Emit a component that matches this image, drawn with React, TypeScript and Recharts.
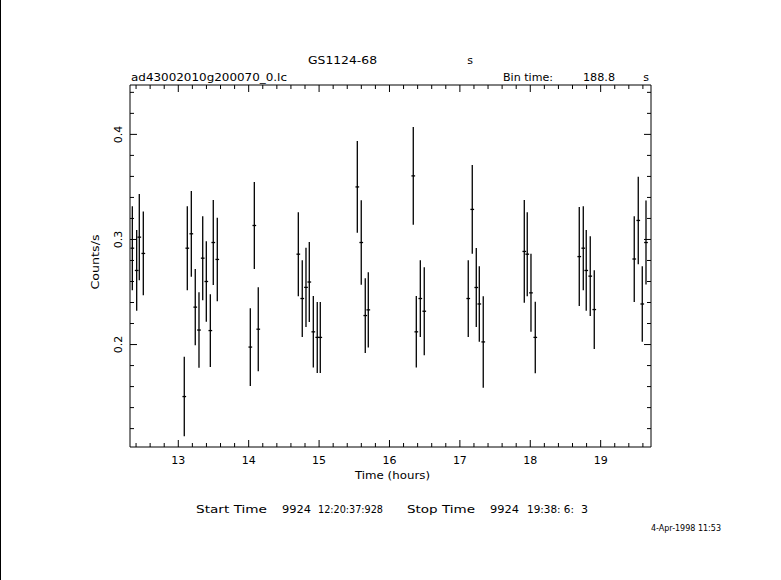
import React from 'react'
import {ScatterChart, Scatter, XAxis, YAxis, ErrorBar} from 'recharts'

// light curve, time in hours, rate in counts/s
const times = [
  12.347, 12.409, 12.446, 12.503,
  13.085, 13.128, 13.185, 13.241, 13.294, 13.347, 13.398, 13.455, 13.497, 13.554,
  14.023, 14.080, 14.136,
  14.705, 14.761, 14.814, 14.861, 14.918, 14.974, 15.017,
  15.543, 15.599, 15.656, 15.699,
  16.338, 16.381, 16.438, 16.494,
  17.119, 17.176, 17.233, 17.276, 17.332,
  17.915, 17.957, 18.010, 18.071,
  18.696, 18.753, 18.795, 18.852, 18.909,
  19.477, 19.534, 19.591, 19.644
]
const rates = [
  0.2917, 0.2705, 0.3022, 0.2867,
  0.1505, 0.2917, 0.3054, 0.2356, 0.2138, 0.2822, 0.2600, 0.2133, 0.2971, 0.2810,
  0.1976, 0.3133, 0.2146,
  0.2860, 0.2438, 0.2544, 0.2595, 0.2121, 0.2068, 0.2068,
  0.3500, 0.2971, 0.2276, 0.2330,
  0.3605, 0.2121, 0.2438, 0.2317,
  0.2438, 0.3286, 0.2543, 0.2386, 0.2025,
  0.2886, 0.2860, 0.2492, 0.2068,
  0.2837, 0.2917, 0.2705, 0.2651, 0.2333,
  0.2814, 0.3181, 0.2386, 0.2971
]
const errors = [
  0.0400, 0.0384, 0.0410, 0.0398,
  0.0378, 0.0400, 0.0408, 0.0362, 0.0360, 0.0400, 0.0384, 0.0346, 0.0405, 0.0397,
  0.0370, 0.0413, 0.0400,
  0.0400, 0.0365, 0.0376, 0.0380, 0.0340, 0.0338, 0.0338,
  0.0437, 0.0403, 0.0356, 0.0359,
  0.0465, 0.0340, 0.0365, 0.0419,
  0.0365, 0.0422, 0.0375, 0.0360, 0.0435,
  0.0489, 0.0400, 0.0371, 0.0340,
  0.0471, 0.0400, 0.0384, 0.0380, 0.0375,
  0.0408, 0.0416, 0.0360, 0.0400
]
const binTimeSec = 188.8

const xTicks = [
  12.4, 12.6, 12.8, 13, 13.2, 13.4, 13.6, 13.8, 14, 14.2, 14.4, 14.6, 14.8, 15,
  15.2, 15.4, 15.6, 15.8, 16, 16.2, 16.4, 16.6, 16.8, 17, 17.2, 17.4, 17.6, 17.8,
  18, 18.2, 18.4, 18.6, 18.8, 19, 19.2, 19.4, 19.6
]
const yTicks = [
  0.12, 0.14, 0.16, 0.18, 0.2, 0.22, 0.24, 0.26, 0.28, 0.3, 0.32, 0.34, 0.36,
  0.38, 0.4, 0.42, 0.44
]
const xDomain = [12.314, 19.715]
const yDomain = [0.1025, 0.447]

const data = times.map((t, i) => ({t, rate: rates[i], err: errors[i], half: binTimeSec / 3600 / 2}))

const FONT = '"DejaVu Sans", Arial, sans-serif'
const isMajorX = (v: number) => Math.abs(v - Math.round(v)) < 1e-6
const isMajorY = (v: number) => Math.abs(v * 10 - Math.round(v * 10)) < 1e-6

const BottomTick = (p: any) => {
  const v = p.payload.value
  const major = isMajorX(v)
  return (
    <g>
      <line x1={p.x} x2={p.x} y1={p.y} y2={p.y - (major ? 7 : 4)} stroke="#000" />
      {major && (
        <text x={p.x} y={p.y + 17} textAnchor="middle" fontSize={11} fontFamily={FONT} fill="#000">
          {v}
        </text>
      )}
    </g>
  )
}
const TopTick = (p: any) => {
  const major = isMajorX(p.payload.value)
  return <line x1={p.x} x2={p.x} y1={p.y} y2={p.y + (major ? 7 : 4)} stroke="#000" />
}
const LeftTick = (p: any) => {
  const v = p.payload.value
  const major = isMajorY(v)
  const lx = p.x - 11
  return (
    <g>
      <line x1={p.x} x2={p.x + (major ? 7 : 4)} y1={p.y} y2={p.y} stroke="#000" />
      {major && (
        <text x={lx} y={p.y} transform={`rotate(-90 ${lx} ${p.y})`} textAnchor="middle"
          dominantBaseline="central" fontSize={11} fontFamily={FONT} fill="#000">
          {v.toFixed(1)}
        </text>
      )}
    </g>
  )
}
const RightTick = (p: any) => {
  const major = isMajorY(p.payload.value)
  return <line x1={p.x} x2={p.x - (major ? 7 : 4)} y1={p.y} y2={p.y} stroke="#000" />
}

const noShape = () => <g />

const txt = {fontSize: 11, fontFamily: FONT, fill: '#000', lengthAdjust: 'spacingAndGlyphs' as const}

export default function App() {
  return (
    <div style={{position: 'absolute', left: 0, top: 0, width: 781, height: 580, background: '#fff'}}>
      <ScatterChart width={781} height={580} margin={{top: 84, right: 129, bottom: 132, left: 129}}>
        <XAxis xAxisId="b" type="number" dataKey="t" domain={xDomain} allowDataOverflow ticks={xTicks}
          height={1} tickSize={0} tickMargin={0} tickLine={false} tick={<BottomTick />}
          axisLine={{stroke: '#000'}} interval={0} />
        <XAxis xAxisId="t" orientation="top" type="number" dataKey="t" domain={xDomain} allowDataOverflow
          ticks={xTicks} height={1} tickSize={0} tickMargin={0} tickLine={false} tick={<TopTick />}
          axisLine={{stroke: '#000'}} interval={0} />
        <YAxis yAxisId="l" type="number" dataKey="rate" domain={yDomain} allowDataOverflow ticks={yTicks}
          width={1} tickSize={0} tickMargin={0} tickLine={false} tick={<LeftTick />}
          axisLine={{stroke: '#000'}} interval={0} />
        <YAxis yAxisId="r" orientation="right" type="number" dataKey="rate" domain={yDomain} allowDataOverflow
          ticks={yTicks} width={1} tickSize={0} tickMargin={0} tickLine={false} tick={<RightTick />}
          axisLine={{stroke: '#000'}} interval={0} />
        <Scatter data={data} xAxisId="b" yAxisId="l" shape={noShape} isAnimationActive={false}>
          <ErrorBar dataKey="err" direction="y" width={0} stroke="#000" strokeWidth={1.3} isAnimationActive={false} />
          <ErrorBar dataKey="half" direction="x" width={0} stroke="#000" strokeWidth={1.3} isAnimationActive={false} />
        </Scatter>
        <Scatter data={data} xAxisId="t" yAxisId="r" shape={noShape} isAnimationActive={false} />
      </ScatterChart>
      <svg width={781} height={580} style={{position: 'absolute', left: 0, top: 0, pointerEvents: 'none'}}>
        <line x1={0.5} x2={0.5} y1={0} y2={580} stroke="#000" />
        <text x={308} y={64} textLength={69} {...txt}>GS1124-68</text>
        <text x={470} y={64} textAnchor="middle" {...txt}>s</text>
        <text x={131} y={81} textLength={156} {...txt}>ad43002010g200070_0.lc</text>
        <text x={503} y={81} textLength={50} {...txt}>Bin time:</text>
        <text x={583} y={81} textLength={32} {...txt}>188.8</text>
        <text x={646} y={81} textAnchor="middle" {...txt}>s</text>
        <text x={95} y={262} transform="rotate(-90 95 262)" textAnchor="middle" dominantBaseline="central"
          textLength={55} {...txt}>Counts/s</text>
        <text x={355} y={479} textLength={75} {...txt}>Time (hours)</text>
        <text x={196} y={513} textLength={71} {...txt}>Start Time</text>
        <text x={282} y={513} textLength={29} {...txt}>9924</text>
        <text x={318} y={513} textLength={65} {...txt}>12:20:37:928</text>
        <text x={407} y={513} textLength={68} {...txt}>Stop Time</text>
        <text x={490} y={513} textLength={29} {...txt}>9924</text>
        <text x={527} y={513} textLength={47} {...txt}>19:38: 6:</text>
        <text x={581} y={513} {...txt}>3</text>
        <text x={651} y={531} textLength={70} fontSize={8} fontFamily={FONT} fill="#000" lengthAdjust="spacingAndGlyphs">4-Apr-1998 11:53</text>
      </svg>
    </div>
  )
}
